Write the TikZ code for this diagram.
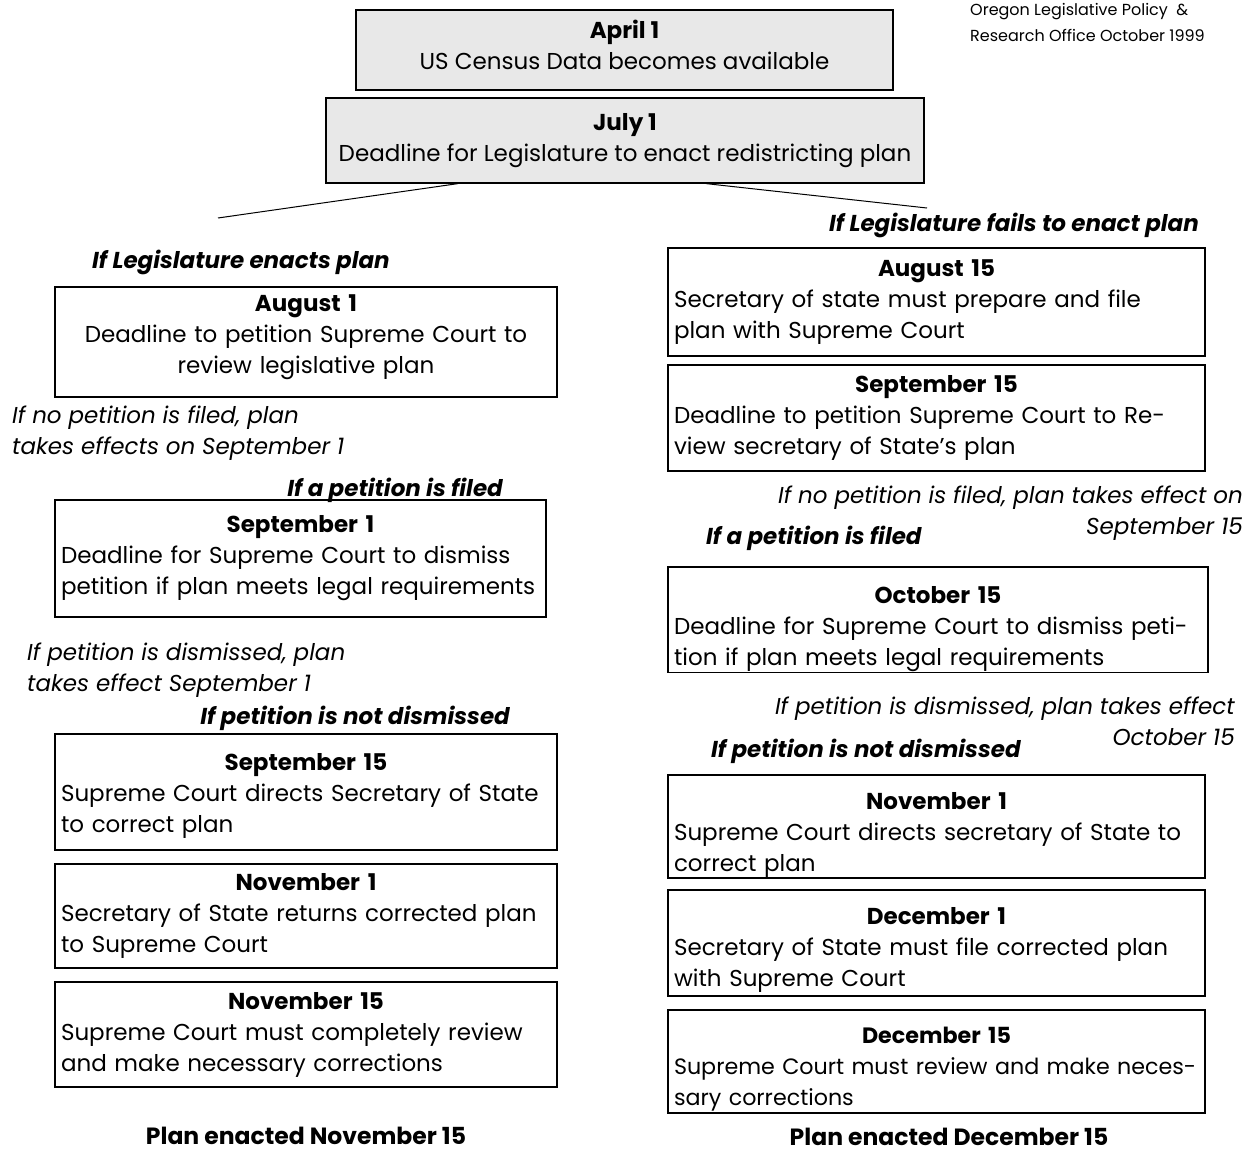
\documentclass[tikz,border=0pt]{standalone}
\usepackage{fontspec}
\setmainfont{Poppins}
\usepackage{xcolor}
\definecolor{boxgrey}{HTML}{E8E8E8}
\newcommand\daytitle[1]{\makebox[\linewidth]{\bfseries #1}}
\tikzset{datebox/.style={draw, line width=1.2pt, inner xsep=6pt, inner ysep=0pt,
        font=\fontsize{23}{31}\selectfont},
    greybox/.style={datebox, fill=boxgrey, align=center},
    leftbox/.style={datebox, align=left, minimum width=#1, text width=#1-12pt},
    textdrop/.style={execute at begin node={\rule{0pt}{#1}}},
    textlift/.style={execute at end node={\rule[-#1]{0pt}{#1}}},
    cond/.style={inner sep=0pt, font=\fontsize{23}{31}\selectfont\itshape},
    branch/.style={inner sep=0pt, font=\fontsize{23}{31}\selectfont\bfseries\itshape},
    result/.style={inner sep=0pt, font=\fontsize{23.5}{31}\selectfont\bfseries}}

\begin{document}
\begin{tikzpicture}[x=1pt,y=-1pt]
\useasboundingbox (0,0) rectangle (1253,1154);
\node[inner sep=0pt, anchor=north west, align=left, font=\fontsize{16}{26}\selectfont]
    (note) at (970,3) {Oregon Legislative Policy~~\&\\Research Office October 1999};

\node[greybox, textlift=10pt, minimum width=537pt, minimum height=80pt] (apr) at (624.5,50)
    {\textbf{April 1}\\US Census Data becomes available};
\node[greybox, minimum width=598pt, minimum height=85pt] (jul) at (625,140.5)
    {\textbf{July 1}\\Deadline for Legislature to enact redistricting plan};
\coordinate (enacts) at (218,218);
\coordinate (fails) at (927,208);
\draw[line width=1pt] ([xshift=-167pt]jul.south) -- (enacts);
\draw[line width=1pt] ([xshift=81pt]jul.south) -- (fails);

% legislature enacts plan
\node[branch, anchor=west] (legenacts) at (92,262) {If Legislature enacts plan};
\node[datebox, textlift=15pt, align=center, minimum width=502pt, text width=490pt,
    minimum height=110pt] (aug1) at (306,342)
    {\textbf{August 1}\\Deadline to petition Supreme Court to\\review legislative plan};
\node[cond, anchor=west, align=left] (nopetl) at (12,433.5)
    {If no petition is filed, plan\\takes effects on September 1};
\node[leftbox=491pt, minimum height=117pt] (sep1) at (300.5,558.5)
    {\daytitle{September 1}\\Deadline for Supreme Court to dismiss\\petition if plan meets legal requirements};
\node[branch, anchor=east] (filedl) at (503,490) {If a petition is filed};
\node[cond, anchor=west, align=left] (disml) at (27,670.5)
    {If petition is dismissed, plan\\takes effect September 1};
\node[branch, anchor=east] (notdisml) at (510,718) {If petition is not dismissed};
\node[leftbox=502pt, textdrop=25pt, minimum height=116pt] (sep15l) at (306,792)
    {\daytitle{September 15}\\Supreme Court directs Secretary of State\\to correct plan};
\node[leftbox=502pt, minimum height=104pt] (nov1l) at (306,916)
    {\daytitle{November 1}\\Secretary of State returns corrected plan\\to Supreme Court};
\node[leftbox=502pt, minimum height=105pt] (nov15l) at (306,1034.5)
    {\daytitle{November 15}\\Supreme Court must completely review\\and make necessary corrections};
\node[result] (plannov) at (306,1136) {Plan enacted November 15};

% legislature fails to enact plan
\node[branch, anchor=west] (legfails) at (829,225) {If Legislature fails to enact plan};
\node[leftbox=537pt, minimum height=108pt] (aug15) at (936.5,302)
    {\daytitle{August 15}\\Secretary of state must prepare and file\\plan with Supreme Court};
\node[leftbox=537pt, minimum height=106pt] (sep15r) at (936.5,418)
    {\daytitle{September 15}\\Deadline to petition Supreme Court to Re-\\view secretary of State's plan};
\node[cond, anchor=east, align=right] (nopetr) at (1243,513.5)
    {If no petition is filed, plan takes effect on\\September 15};
\node[branch, anchor=west] (filedr) at (706,538) {If a petition is filed};
\node[leftbox=540pt, textdrop=37pt, minimum height=105pt] (oct15) at (938,619.5)
    {\daytitle{October 15}\\Deadline for Supreme Court to dismiss peti-\\tion if plan meets legal requirements};
\node[cond, anchor=east, align=right] (dismr) at (1235,721)
    {If petition is dismissed, plan takes effect\\October 15};
\node[branch, anchor=west] (notdismr) at (711,751) {If petition is not dismissed};
\node[leftbox=537pt, textdrop=33pt, minimum height=103pt] (nov1r) at (936.5,826.5)
    {\daytitle{November 1}\\Supreme Court directs secretary of State to\\correct plan};
\node[leftbox=537pt, textdrop=31pt, minimum height=106pt] (dec1) at (936.5,943)
    {\daytitle{December 1}\\Secretary of State must file corrected plan\\with Supreme Court};
\node[leftbox=537pt, textdrop=31pt, minimum height=103pt, font=\fontsize{22.2}{31}\selectfont]
    (dec15) at (936.5,1061.5)
    {\daytitle{December 15}\\\mbox{Supreme Court must review and make neces-}\\sary corrections};
\node[result] (plandec) at (949,1137) {Plan enacted December 15};
\end{tikzpicture}
\end{document}
